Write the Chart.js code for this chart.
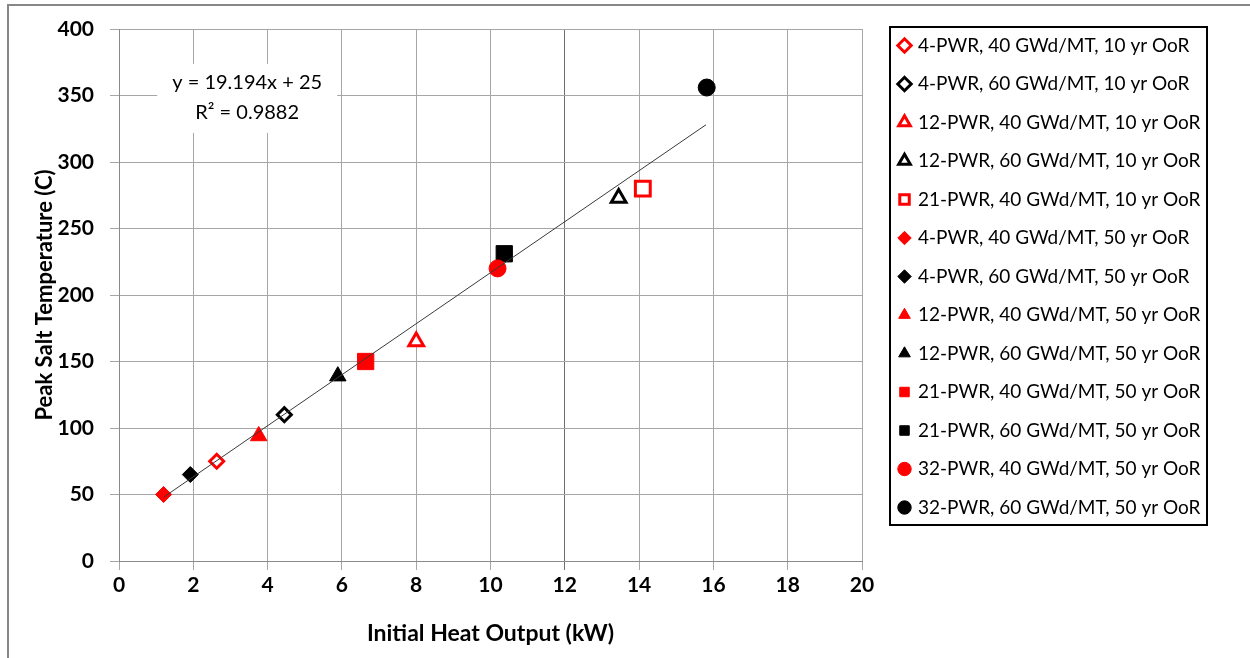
<!DOCTYPE html>
<html>
<head>
<meta charset="utf-8">
<script src="https://cdn.jsdelivr.net/npm/chart.js@4"></script>
<style>
  body { margin: 0; background: #fff; }
  #wrap { width: 1250px; height: 658px; }
</style>
</head>
<body>
<div id="wrap"><canvas id="chart" width="1250" height="658"></canvas></div>
<script>
const seriesNames = [
  "4-PWR, 40 GWd/MT, 10 yr OoR",
  "4-PWR, 60 GWd/MT, 10 yr OoR",
  "12-PWR, 40 GWd/MT, 10 yr OoR",
  "12-PWR, 60 GWd/MT, 10 yr OoR",
  "21-PWR, 40 GWd/MT, 10 yr OoR",
  "4-PWR, 40 GWd/MT, 50 yr OoR",
  "4-PWR, 60 GWd/MT, 50 yr OoR",
  "12-PWR, 40 GWd/MT, 50 yr OoR",
  "12-PWR, 60 GWd/MT, 50 yr OoR",
  "21-PWR, 40 GWd/MT, 50 yr OoR",
  "21-PWR, 60 GWd/MT, 50 yr OoR",
  "32-PWR, 40 GWd/MT, 50 yr OoR",
  "32-PWR, 60 GWd/MT, 50 yr OoR"
];
const heatOutput = [2.63, 4.45, 8.0, 13.45, 14.1, 1.2, 1.92, 3.76, 5.89, 6.64, 10.37, 10.19, 15.82];
const peakTemp   = [75, 110, 165, 273, 280, 50, 65, 94, 139, 150, 231, 220, 356];

// trendline as drawn (end points)
const trendX = [1.2, 15.8];
const trendY = [48, 328];
const trendText = ["y = 19.194x + 25", "R\u00b2 = 0.9882"];

const RED = "#ff0000";
const BLACK = "#000000";
const colors = [RED, BLACK, RED, BLACK, RED, RED, BLACK, RED, BLACK, RED, BLACK, RED, BLACK];
const shapes = ["rectRot", "rectRot", "triangle", "triangle", "rect",
                "rectRot", "rectRot", "triangle", "triangle", "rect", "rect", "circle", "circle"];
const hollow = [true, true, true, true, true, false, false, false, false, false, false, false, false];

const sizeFor = { rectRot: 8, triangle: 9.5, rect: 11.5, circle: 8.5 };

const FONT = "Lato, 'Open Sans', sans-serif";

const datasets = seriesNames.map((name, i) => ({
  label: name,
  data: [{ x: heatOutput[i], y: peakTemp[i] }],
  pointStyle: shapes[i],
  pointRadius: hollow[i] ? sizeFor[shapes[i]] - 1 : sizeFor[shapes[i]],
  pointHoverRadius: sizeFor[shapes[i]],
  borderColor: colors[i],
  backgroundColor: hollow[i] ? "#ffffff" : colors[i],
  borderWidth: hollow[i] ? 3 : 1,
  order: -i
}));

datasets.push({
  label: "trend",
  data: trendX.map((x, i) => ({ x, y: trendY[i] })),
  showLine: true,
  pointRadius: 0,
  borderColor: "#3a3a3a",
  borderWidth: 1,
  order: -100
});

const decor = {
  id: "decor",
  afterLayout(chart) {
    // legend sits a bit away from the plot, like the original
    const lg = chart.legend;
    lg.left = 881;
    lg.right = 1250;
    lg.top = 16.5;
    lg.bottom = 658;
  },
  beforeDatasetsDraw(chart) {
    const { ctx, scales: { x, y } } = chart;
    const cx = x.getPixelForValue(3.45);
    const cy = y.getPixelForValue(352);
    ctx.save();
    ctx.fillStyle = "#fff";
    ctx.fillRect(cx - 90, cy - 29, 180, 69);
    ctx.fillStyle = "#000";
    ctx.font = "20px " + FONT;
    ctx.textAlign = "center";
    ctx.textBaseline = "middle";
    ctx.fillText(trendText[0], cx, cy - 10);
    ctx.fillText(trendText[1], cx, cy + 20);
    ctx.restore();
  },
  afterDraw(chart) {
    const ctx = chart.ctx;
    ctx.save();
    ctx.strokeStyle = "#000";
    ctx.lineWidth = 2;
    ctx.strokeRect(890, 27, 317, 498);
    ctx.strokeStyle = "#878787";
    ctx.lineWidth = 2;
    ctx.strokeRect(8, 5, 1400, 800);
    ctx.restore();
  }
};

const gridColor = (c) => (c.tick && c.tick.value === 12 ? "#6e6e6e" : "#a6a6a6");

new Chart(document.getElementById("chart"), {
  type: "scatter",
  data: { datasets },
  plugins: [decor],
  options: {
    responsive: false,
    animation: false,
    layout: { padding: { left: 30, top: 29, right: 138, bottom: 0 } },
    font: { family: FONT },
    plugins: {
      tooltip: { enabled: false },
      legend: {
        position: "right",
        align: "start",
        maxWidth: 250,
        labels: {
          filter: (item) => item.text !== "trend",
          sort: (a, b) => a.datasetIndex - b.datasetIndex,
          usePointStyle: true,
          boxWidth: 8,
          boxHeight: 9.5,
          padding: 19.5,
          color: "#000",
          font: { family: FONT, size: 19 }
        }
      }
    },
    scales: {
      x: {
        type: "linear",
        min: 0,
        max: 20,
        ticks: { stepSize: 2, color: "#000", padding: 3, font: { family: FONT, size: 21, weight: "bold" } },
        grid: { color: gridColor, tickColor: gridColor, tickLength: 9, lineWidth: 1 },
        border: { color: "#8a8a8a", width: 1 },
        title: { display: true, text: "Initial Heat Output (kW)", color: "#000",
                 padding: { top: 4, bottom: 11 }, font: { family: FONT, size: 23, weight: "bold" } },
        afterFit: (s) => { s.height = 97; }
      },
      y: {
        min: 0,
        max: 400,
        ticks: { stepSize: 50, color: "#000", padding: 16, font: { family: FONT, size: 21, weight: "bold" } },
        grid: { color: "#a6a6a6", tickColor: "#a6a6a6", tickLength: 9, lineWidth: 1 },
        border: { color: "#8a8a8a", width: 1 },
        title: { display: true, text: "Peak Salt Temperature (C)", color: "#000",
                 padding: { top: 2, bottom: 0 }, font: { family: FONT, size: 22, weight: "bold" } },
        afterFit: (s) => { s.width = 89; }
      }
    }
  }
});
</script>
</body>
</html>
